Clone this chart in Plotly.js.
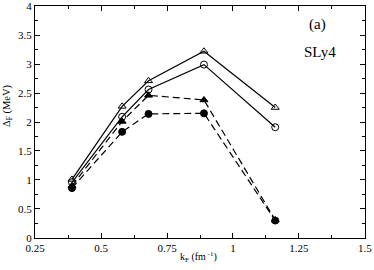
<!DOCTYPE html>
<html><head><meta charset="utf-8">
<script src="https://cdn.plot.ly/plotly-3.0.1.min.js"></script>
<style>html,body{margin:0;padding:0;background:#fff}#chart{width:374px;height:270px}</style>
</head><body><div id="chart"></div>
<script>
const kF = [0.39, 0.58, 0.68, 0.89, 1.16];
const openTri = [1.01, 2.27, 2.71, 3.22, 2.25];
const openCirc = [0.96, 2.09, 2.56, 2.99, 1.91];
const fillTri = [0.90, 2.01, 2.46, 2.38, 0.31];
const fillCirc = [0.86, 1.83, 2.14, 2.15, 0.30];
const xTicks = [0.25, 0.5, 0.75, 1, 1.25, 1.5];
const xTickText = ['0.25', '0.5', '0.75', '1', '1.25', '1.5'];
const yTicks = [0, 0.5, 1, 1.5, 2, 2.5, 3, 3.5, 4];
const yTickText = ['0', '0.5', '1', '1.5', '2', '2.5', '3', '3.5', '4'];

function tr(y, sym, dash) {
  return {x: kF, y: y, mode: 'lines+markers', type: 'scatter',
    line: {color: '#000', width: 1.2, dash: dash},
    marker: {symbol: sym, size: 7, color: '#000', line: {color: '#000', width: 1}}};
}
const data = [
  tr(openTri, 'triangle-up-open', 'solid'),
  tr(openCirc, 'circle-open', 'solid'),
  tr(fillTri, 'triangle-up', '7px,4px'),
  tr(fillCirc, 'circle', '7px,4px')
];
const font = {family: 'Liberation Serif', color: '#000'};
const f = s => Object.assign({size: s}, font);
const axBase = {showgrid: false, zeroline: false, showline: true, linecolor: '#000', linewidth: 1,
  mirror: 'allticks', ticks: 'inside', ticklen: 5, tickcolor: '#000', tickfont: f(11),
  ticklabeloverflow: 'allow'};
const layout = {
  width: 374, height: 270, margin: {l: 35, r: 9, t: 6, b: 32},
  paper_bgcolor: '#fff', plot_bgcolor: '#fff', showlegend: false, font: font,
  xaxis: Object.assign({}, axBase, {range: [0.2499, 1.5001], tickvals: xTicks, ticktext: xTickText,
    minor: {ticks: 'inside', ticklen: 3, tickcolor: '#000', dtick: 0.125, tick0: 0.25, showgrid: false}}),
  yaxis: Object.assign({}, axBase, {range: [-0.0005, 4.0005], tickvals: yTicks, ticktext: yTickText,
    minor: {ticks: 'inside', ticklen: 3, tickcolor: '#000', dtick: 0.25, tick0: 0, showgrid: false}}),
  annotations: [
    {x: 1.32, y: 3.68, xref: 'x', yref: 'y', text: '(a)', showarrow: false, font: f(15)},
    {x: 1.33, y: 3.2, xref: 'x', yref: 'y', text: 'SLy4', showarrow: false, font: f(15)},
    {x: 0.494, y: -0.082, xref: 'paper', yref: 'paper', text: 'k<sub>F</sub> (fm<sup> -1</sup>)',
      showarrow: false, font: f(10), yanchor: 'middle'},
    {x: -0.085, y: 0.573, xref: 'paper', yref: 'paper', text: 'Δ<sub>F</sub> (MeV)', textangle: -90,
      showarrow: false, font: f(10.5), xanchor: 'center', yanchor: 'middle'}
  ]
};
Plotly.newPlot('chart', data, layout, {displayModeBar: false, staticPlot: true});
</script></body></html>
